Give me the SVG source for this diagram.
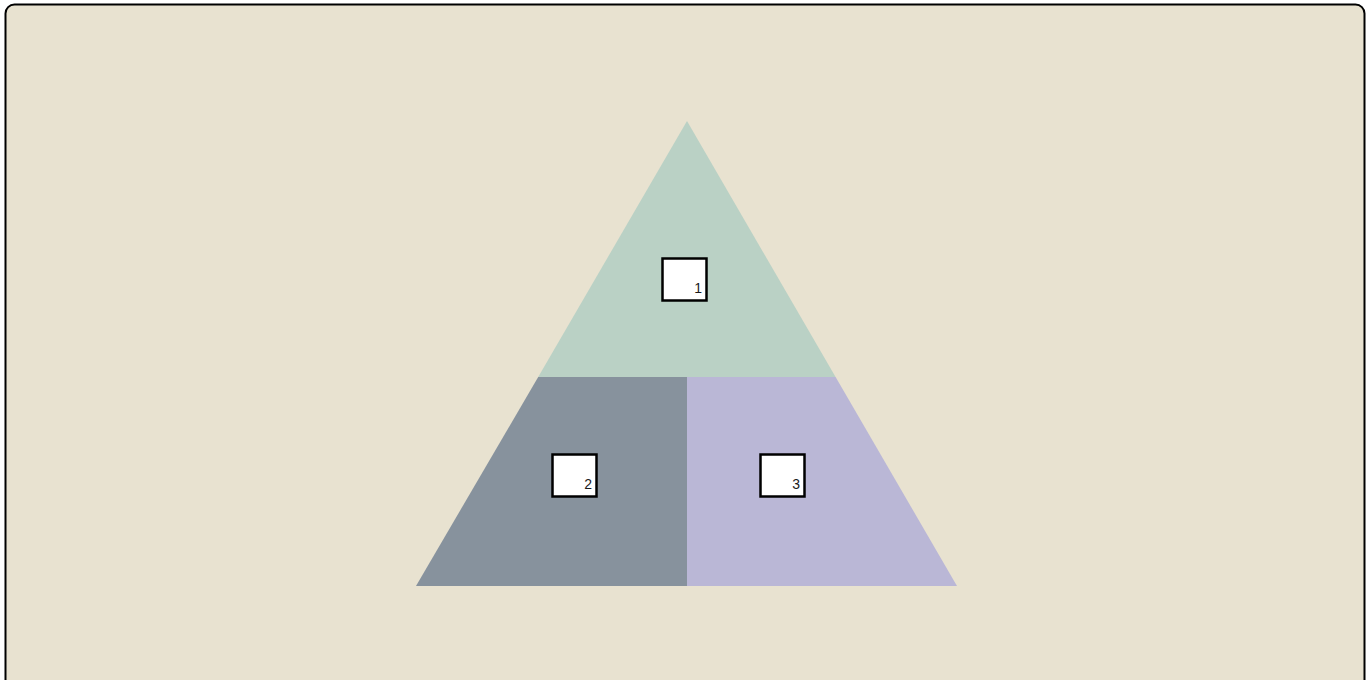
<svg xmlns="http://www.w3.org/2000/svg" width="1370" height="680" viewBox="0 0 1370 680">
<style>
.box{fill:#ffffff;stroke:#000000;stroke-width:2.5}
.lbl{font-family:"Liberation Sans",Arial,sans-serif;font-size:14px;fill:#1a1a1a;text-anchor:end}
</style>
<rect x="0" y="0" width="1370" height="680" fill="#ffffff"/>
<rect x="5.5" y="4.5" width="1359" height="700" rx="9" ry="9" fill="#e8e2d0" stroke="#000000" stroke-width="2"/>
<g id="segment-top"><polygon points="687,121 835.6,377 538.2,377" fill="#bad1c5"/></g>
<g id="segment-left"><polygon points="538.2,377 687,377 687,586 416,586" fill="#87929d"/></g>
<g id="segment-right"><polygon points="687,377 835.6,377 957,586 687,586" fill="#bab7d6"/></g>
<g id="connectors"></g>
<g id="node-1"><rect class="box" x="662.5" y="258.5" width="44" height="42"/><text class="lbl" x="702" y="293">1</text></g>
<g id="node-2"><rect class="box" x="552.5" y="454.5" width="44" height="42"/><text class="lbl" x="592" y="489">2</text></g>
<g id="node-3"><rect class="box" x="760.5" y="454.5" width="44" height="42"/><text class="lbl" x="800" y="489">3</text></g>
</svg>
